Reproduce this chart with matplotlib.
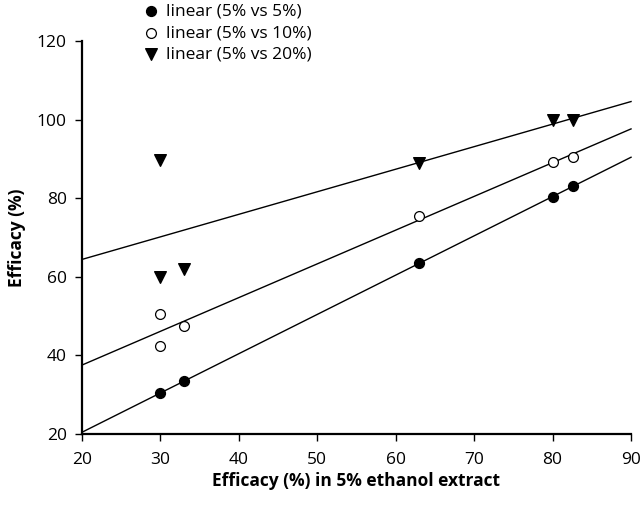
import matplotlib
matplotlib.use('Agg')
import matplotlib.pyplot as plt
import numpy as np

plt.rcParams['font.family'] = ['Open Sans', 'DejaVu Sans']

# x: efficacy in 5% ethanol extract
x_5 = [30, 33, 63, 80, 82.6]
y_5 = [30.4, 33.5, 63.4, 80.4, 83.1]

x_10 = [30, 30, 33, 63, 80, 82.6]
y_10 = [50.5, 42.5, 47.5, 75.5, 89.3, 90.5]

x_20 = [30, 30, 33, 63, 80, 82.6]
y_20 = [89.7, 60.0, 62.0, 88.9, 100.0, 100.0]

labels = ['linear (5% vs 5%)', 'linear (5% vs 10%)', 'linear (5% vs 20%)']
x_ticks = [20, 30, 40, 50, 60, 70, 80, 90]
y_ticks = [20, 40, 60, 80, 100, 120]

fig = plt.figure(figsize=(6.4, 5.17), dpi=100)
ax = fig.add_axes([0.128, 0.1605, 0.858, 0.760])

xs = np.array([20, 90])
handles = []
series = [
    (x_5, y_5, dict(marker='o', facecolor='black', edgecolor='black', s=50)),
    (x_10, y_10, dict(marker='o', facecolor='white', edgecolor='black', s=50, linewidths=0.9)),
    (x_20, y_20, dict(marker='v', facecolor='black', edgecolor='black', s=70)),
]
for (xv, yv, style), lab in zip(series, labels):
    # excel-style linear trendline
    k, b = np.polyfit(xv, yv, 1)
    ax.plot(xs, k * xs + b, color='black', lw=1.0, zorder=2, clip_on=False)
    h = ax.scatter(xv, yv, zorder=3, label=lab, **style)
    handles.append(h)

ax.set_xlim(20, 90)
ax.set_ylim(20, 120)
ax.set_xticks(x_ticks)
ax.set_yticks(y_ticks)
for s in ['top', 'right']:
    ax.spines[s].set_visible(False)
for s in ['left', 'bottom']:
    ax.spines[s].set_linewidth(1.6)
ax.tick_params(direction='out', length=5, width=1.0, labelsize=12.5)
ax.tick_params(axis='x', pad=8)
ax.tick_params(axis='y', pad=6)

ax.set_xlabel('Efficacy (%) in 5% ethanol extract', fontsize=12.5, fontweight='bold', labelpad=3)
ax.set_ylabel('Efficacy (%)', fontsize=12.5, fontweight='bold', labelpad=8)

fig.legend(handles=handles, labels=labels, loc='upper left',
           bbox_to_anchor=(0.214, 1.006), frameon=False, fontsize=12.5,
           handletextpad=0.5, labelspacing=0.3, handlelength=0.8,
           borderaxespad=0)

fig.savefig('out.png', dpi=100)
